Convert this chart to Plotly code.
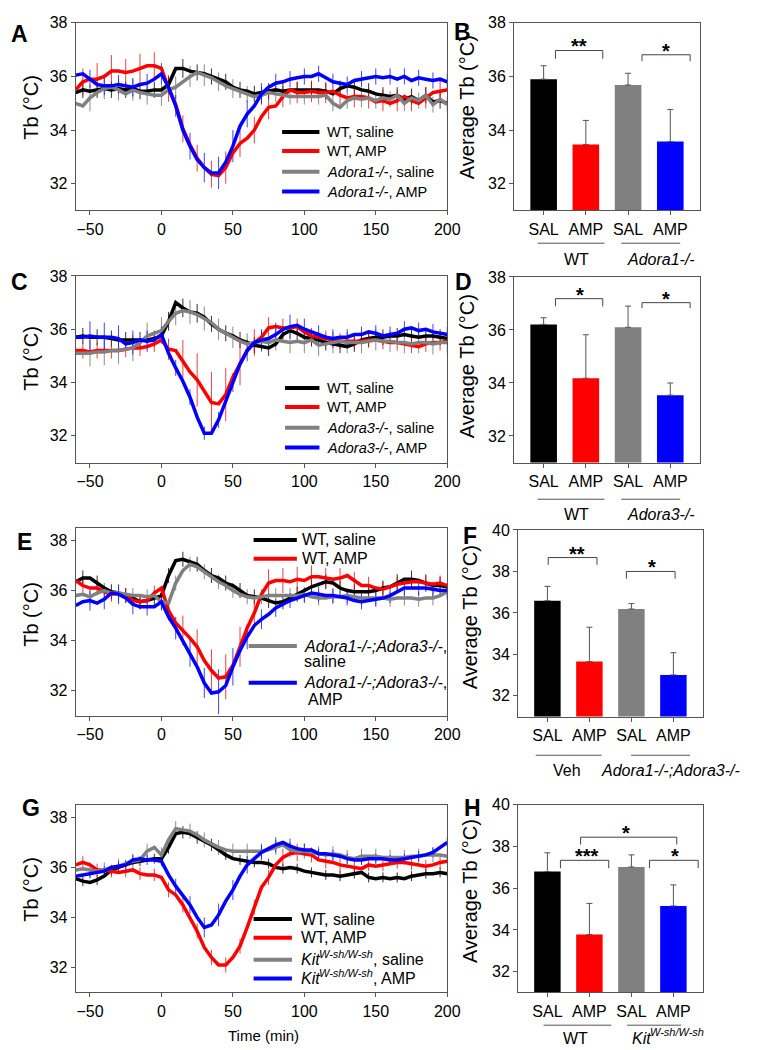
import plotly.graph_objects as go

FONT = "Arial, 'Liberation Sans', Helvetica, sans-serif"
W, H = 762, 1050

# ---------------- time-course data (5-min grid) ----------------
T = list(range(-60, 205, 5))
ERR_T1 = list(range(-55, 200, 10))   # error-bar times for WT series
ERR_T2 = list(range(-50, 205, 10))   # error-bar times for KO series

LINE_COLORS = ["#000000", "#ff0000", "#808080", "#0000ff"]
ERR_COLORS = ["#333333", "rgba(225,0,0,0.75)", "#8c8c8c", "rgba(0,0,255,0.75)"]

# Panel A
A_WT_SAL = [35.4, 35.5, 35.45, 35.5, 35.55, 35.5, 35.55, 35.5, 35.55, 35.45,
            35.45, 35.5, 35.5, 35.7, 36.3, 36.3, 36.2, 36.15, 36.1, 36.0,
            35.9, 35.8, 35.6, 35.5, 35.45, 35.35, 35.4, 35.45, 35.5, 35.45,
            35.5, 35.5, 35.5, 35.5, 35.5, 35.45, 35.35, 35.55, 35.65, 35.6,
            35.5, 35.45, 35.35, 35.3, 35.25, 35.3, 35.15, 35.25, 35.1, 35.3,
            35.05, 35.1, 35.0]
A_WT_AMP = [35.5, 35.8, 35.9, 35.9, 36.0, 36.2, 36.2, 36.15, 36.2, 36.3,
            36.4, 36.4, 36.3, 35.55, 34.95, 34.05, 33.45, 32.95, 32.6, 32.35,
            32.3, 32.6, 33.15, 33.5, 33.7, 34.0, 34.5, 34.85, 34.9, 35.25,
            35.5, 35.4, 35.4, 35.45, 35.4, 35.4, 35.45, 35.3, 35.2, 35.25,
            35.25, 35.2, 35.05, 35.1, 35.0, 35.1, 35.25, 35.1, 35.0, 35.2,
            35.4, 35.45, 35.5]
A_KO_SAL = [35.0, 34.9, 35.2, 35.4, 35.55, 35.6, 35.5, 35.35, 35.5, 35.4,
            35.35, 35.3, 35.3, 35.5, 35.6, 35.8, 36.0, 36.15, 36.05, 35.95,
            35.8, 35.65, 35.55, 35.45, 35.35, 35.25, 35.3, 35.4, 35.35, 35.3,
            35.25, 35.25, 35.25, 35.25, 35.25, 35.3, 35.0, 34.85, 35.1, 35.2,
            35.15, 35.2, 35.1, 35.2, 35.15, 35.3, 35.0, 35.2, 35.1, 35.3,
            34.95, 35.15, 34.95]
A_KO_AMP = [36.05, 36.1, 35.9, 35.7, 35.65, 35.65, 35.7, 35.65, 35.6, 35.7,
            35.75, 35.9, 36.1, 35.6, 34.9, 34.0, 33.4, 32.9, 32.6, 32.4,
            32.4, 32.8, 33.4, 34.15, 34.6, 34.9, 35.35, 35.6, 35.75, 35.8,
            35.9, 35.95, 36.0, 36.0, 36.1, 35.95, 35.8, 35.75, 35.7, 35.85,
            35.9, 35.95, 36.0, 35.95, 36.0, 35.9, 36.0, 35.85, 35.95, 35.9,
            35.85, 35.9, 35.8]
A_ERR = [
    [0.3, 0.3, 0.3, 0.3, 0.3, 0.3, 0.3, 0.35, 0.3, 0.3, 0.3, 0.3, 0.3, 0.3, 0.3, 0.3, 0.3, 0.3, 0.3, 0.3, 0.3, 0.3, 0.3, 0.3, 0.3, 0.3],
    [0.5, 0.6, 0.6, 0.5, 0.55, 0.5, 0.5, 0.5, 0.5, 0.5, 0.6, 0.5, 0.5, 0.45, 0.4, 0.4, 0.4, 0.4, 0.4, 0.4, 0.4, 0.4, 0.4, 0.4, 0.4, 0.4],
    [0.5, 0.4, 0.4, 0.4, 0.4, 0.4, 0.4, 0.4, 0.4, 0.35, 0.35, 0.3, 0.3, 0.3, 0.3, 0.3, 0.3, 0.3, 0.3, 0.3, 0.3, 0.3, 0.3, 0.3, 0.3, 0.3],
    [0.35, 0.35, 0.35, 0.35, 0.35, 0.4, 0.4, 0.5, 0.55, 0.6, 0.6, 0.5, 0.4, 0.35, 0.3, 0.3, 0.3, 0.3, 0.3, 0.3, 0.3, 0.3, 0.3, 0.3, 0.3, 0.3],
]

# Panel C
C_WT_SAL = [35.7, 35.75, 35.7, 35.7, 35.7, 35.65, 35.6, 35.6, 35.6, 35.6,
            35.6, 35.65, 35.75, 36.3, 37.0, 36.8, 36.65, 36.6, 36.45, 36.2,
            36.0, 35.85, 35.75, 35.6, 35.5, 35.4, 35.35, 35.3, 35.45, 35.8,
            35.95, 35.85, 35.7, 35.65, 35.6, 35.5, 35.45, 35.4, 35.35, 35.45,
            35.6, 35.65, 35.7, 35.7, 35.75, 35.75, 35.8, 35.75, 35.7, 35.75,
            35.75, 35.7, 35.65]
C_WT_AMP = [35.2, 35.2, 35.15, 35.2, 35.2, 35.2, 35.2, 35.25, 35.3, 35.3,
            35.35, 35.45, 35.6, 35.25, 35.2, 34.8, 34.4, 34.1, 33.7, 33.25,
            33.2, 33.55, 34.2, 34.7, 35.2, 35.5, 35.7, 36.05, 36.1, 36.05,
            36.05, 36.1, 35.9, 35.75, 35.7, 35.65, 35.6, 35.55, 35.55, 35.55,
            35.55, 35.6, 35.6, 35.55, 35.5, 35.5, 35.45, 35.4, 35.35, 35.45,
            35.5, 35.5, 35.55]
C_KO_SAL = [35.1, 35.1, 35.1, 35.15, 35.15, 35.2, 35.2, 35.25, 35.3, 35.5,
            35.75, 35.85, 35.95, 36.3, 36.6, 36.7, 36.65, 36.55, 36.4, 36.25,
            36.0, 35.85, 35.7, 35.55, 35.45, 35.5, 35.55, 35.5, 35.6, 35.55,
            35.5, 35.55, 35.5, 35.6, 35.4, 35.45, 35.5, 35.55, 35.5, 35.5,
            35.5, 35.55, 35.6, 35.55, 35.55, 35.5, 35.5, 35.45, 35.5, 35.5,
            35.45, 35.5, 35.5]
C_KO_AMP = [35.7, 35.7, 35.75, 35.7, 35.7, 35.7, 35.65, 35.45, 35.5, 35.6,
            35.55, 35.6, 35.8, 35.1, 34.55, 34.05, 33.45, 32.7, 32.1, 32.1,
            32.6, 33.3, 34.0, 34.7, 35.2, 35.5, 35.6, 35.65, 35.8, 36.0,
            36.1, 36.15, 36.0, 35.9, 35.8, 35.7, 35.65, 35.7, 35.7, 35.8,
            35.8, 35.9, 35.85, 35.75, 35.8, 35.85, 36.0, 36.05, 35.95, 36.0,
            35.9, 35.85, 35.8]
C_ERR = [
    [0.3, 0.3, 0.3, 0.3, 0.3, 0.3, 0.35, 0.35, 0.35, 0.3, 0.3, 0.3, 0.3, 0.3, 0.3, 0.3, 0.3, 0.3, 0.3, 0.3, 0.3, 0.3, 0.3, 0.3, 0.3, 0.3],
    [0.3, 0.3, 0.3, 0.3, 0.3, 0.3, 0.4, 0.8, 1.0, 1.15, 1.0, 0.8, 0.5, 0.4, 0.35, 0.3, 0.3, 0.3, 0.3, 0.3, 0.3, 0.3, 0.3, 0.3, 0.3, 0.3],
    [0.5, 0.5, 0.5, 0.5, 0.5, 0.5, 0.45, 0.45, 0.45, 0.4, 0.4, 0.4, 0.4, 0.4, 0.4, 0.4, 0.4, 0.4, 0.4, 0.4, 0.4, 0.4, 0.4, 0.4, 0.4, 0.4],
    [0.55, 0.55, 0.5, 0.45, 0.4, 0.3, 0.3, 0.3, 0.25, 0.3, 0.35, 0.4, 0.4, 0.45, 0.45, 0.4, 0.35, 0.35, 0.3, 0.3, 0.3, 0.3, 0.3, 0.3, 0.3, 0.3],
]

# Panel E
E_WT_SAL = [36.35, 36.5, 36.5, 36.3, 36.1, 35.95, 35.9, 35.8, 35.7, 35.55,
            35.6, 35.7, 35.8, 36.6, 37.2, 37.25, 37.15, 37.05, 36.8, 36.6,
            36.5, 36.3, 36.2, 36.0, 35.8, 35.75, 35.7, 35.6, 35.5, 35.55,
            35.7, 35.85, 36.0, 36.15, 36.25, 36.35, 36.3, 36.1, 36.0, 35.95,
            35.95, 35.95, 36.0, 36.1, 36.15, 36.3, 36.45, 36.45, 36.4, 36.3,
            36.2, 36.2, 36.15]
E_WT_AMP = [36.4, 36.2, 36.1, 36.1, 35.95, 35.85, 35.9, 35.8, 35.6, 35.55,
            35.6, 35.9, 36.1, 35.2, 34.7, 34.4, 34.1, 33.75, 33.2, 32.8,
            32.5, 32.55, 33.0, 33.75, 34.5, 35.1, 35.85, 36.3, 36.4, 36.4,
            36.35, 36.45, 36.4, 36.55, 36.55, 36.5, 36.45, 36.5, 36.6, 36.4,
            36.2, 36.2, 36.1, 36.05, 36.15, 36.25, 36.3, 36.35, 36.35, 36.3,
            36.25, 36.3, 36.2]
E_KO_SAL = [35.8, 35.85, 35.75, 35.9, 36.0, 35.9, 35.9, 35.85, 35.8, 35.8,
            35.75, 35.8, 35.55, 35.5, 36.3, 36.8, 37.05, 36.95, 36.75, 36.55,
            36.35, 36.2, 36.0, 35.85, 35.75, 35.7, 35.75, 35.8, 35.8, 35.8,
            35.8, 35.8, 35.85, 35.75, 35.7, 35.7, 35.75, 35.75, 35.8, 35.75,
            35.7, 35.7, 35.7, 35.7, 35.65, 35.7, 35.7, 35.7, 35.65, 35.7,
            35.7, 35.8, 35.95]
E_KO_AMP = [35.4, 35.55, 35.6, 35.5, 35.65, 35.9, 35.85, 35.7, 35.45, 35.35,
            35.35, 35.35, 35.55, 34.95, 34.5, 34.0, 33.5, 32.95, 32.3, 31.9,
            31.95, 32.2, 32.95, 33.6, 34.15, 34.6, 34.85, 35.05, 35.3, 35.45,
            35.6, 35.7, 35.8, 35.9, 35.85, 35.8, 35.8, 35.75, 35.7, 35.6,
            35.55, 35.6, 35.65, 35.7, 35.8, 35.95, 36.1, 36.1, 36.1, 36.1,
            36.05, 36.0, 36.0]
E_ERR = [
    [0.3, 0.3, 0.3, 0.3, 0.3, 0.3, 0.3, 0.3, 0.3, 0.3, 0.3, 0.3, 0.3, 0.3, 0.3, 0.3, 0.3, 0.3, 0.3, 0.3, 0.3, 0.3, 0.35, 0.35, 0.35, 0.35],
    [0.3, 0.3, 0.3, 0.3, 0.3, 0.3, 0.4, 0.6, 0.7, 0.85, 0.9, 0.8, 0.6, 0.55, 0.5, 0.5, 0.45, 0.4, 0.4, 0.35, 0.35, 0.3, 0.3, 0.3, 0.3, 0.3],
    [0.3, 0.3, 0.3, 0.3, 0.3, 0.3, 0.3, 0.3, 0.3, 0.3, 0.3, 0.3, 0.3, 0.3, 0.3, 0.3, 0.3, 0.3, 0.3, 0.3, 0.3, 0.3, 0.3, 0.3, 0.3, 0.3],
    [0.4, 0.4, 0.4, 0.4, 0.35, 0.35, 0.45, 0.55, 0.6, 0.9, 0.75, 0.5, 0.4, 0.35, 0.3, 0.3, 0.3, 0.3, 0.3, 0.3, 0.3, 0.3, 0.3, 0.3, 0.3, 0.3],
]

# Panel G
G_WT_SAL = [35.55, 35.45, 35.4, 35.5, 35.65, 35.9, 36.0, 36.1, 36.2, 36.25,
            36.3, 36.35, 36.35, 36.8, 37.35, 37.4, 37.35, 37.2, 37.05, 36.9,
            36.7, 36.5, 36.35, 36.3, 36.25, 36.2, 36.2, 36.15, 36.0, 35.95,
            36.0, 35.95, 35.85, 35.8, 35.75, 35.7, 35.7, 35.65, 35.7, 35.75,
            35.8, 35.6, 35.55, 35.6, 35.55, 35.6, 35.55, 35.65, 35.7, 35.75,
            35.75, 35.8, 35.75]
G_WT_AMP = [36.1, 36.2, 36.1, 35.9, 35.9, 35.85, 35.8, 35.85, 35.9, 35.75,
            35.7, 35.7, 35.6, 35.1, 34.9, 34.5, 34.0, 33.45, 32.8, 32.4,
            32.1, 32.1, 32.4, 32.85, 33.6, 34.4, 35.2, 35.6, 36.1, 36.4,
            36.55, 36.6, 36.55, 36.5, 36.3, 36.25, 36.2, 36.1, 36.05, 36.0,
            35.95, 36.1, 36.05, 36.1, 36.15, 36.2, 36.2, 36.15, 36.1, 36.05,
            36.1, 36.2, 36.25]
G_KO_SAL = [35.9, 35.95, 35.9, 35.85, 35.9, 36.0, 36.05, 36.15, 36.25, 36.3,
            36.65, 36.8, 36.5, 37.1, 37.55, 37.5, 37.45, 37.3, 37.1, 36.95,
            36.8, 36.7, 36.65, 36.65, 36.65, 36.65, 36.65, 36.7, 36.8, 36.9,
            36.7, 36.65, 36.65, 36.6, 36.55, 36.5, 36.55, 36.5, 36.4, 36.35,
            36.45, 36.45, 36.45, 36.4, 36.4, 36.4, 36.4, 36.45, 36.45, 36.5,
            36.5, 36.5, 36.45]
G_KO_AMP = [35.65, 35.7, 35.75, 35.8, 35.85, 36.0, 36.05, 36.1, 36.3, 36.35,
            36.3, 36.3, 36.25, 35.7, 35.25, 34.9, 34.5, 34.0, 33.6, 33.7,
            34.1, 34.65, 35.1, 35.65, 36.1, 36.35, 36.6, 36.75, 36.9, 37.0,
            36.85, 36.75, 36.7, 36.7, 36.55, 36.55, 36.5, 36.45, 36.35, 36.3,
            36.3, 36.35, 36.35, 36.35, 36.3, 36.3, 36.35, 36.4, 36.45, 36.5,
            36.6, 36.8, 37.0]
G_ERR = [
    [0.2, 0.2, 0.2, 0.2, 0.2, 0.2, 0.25, 0.25, 0.25, 0.25, 0.2, 0.2, 0.2, 0.2, 0.2, 0.2, 0.2, 0.2, 0.2, 0.2, 0.2, 0.2, 0.2, 0.2, 0.2, 0.2],
    [0.25, 0.25, 0.25, 0.25, 0.25, 0.25, 0.3, 0.3, 0.3, 0.3, 0.3, 0.3, 0.3, 0.3, 0.35, 0.35, 0.3, 0.3, 0.3, 0.3, 0.25, 0.25, 0.25, 0.25, 0.25, 0.25],
    [0.3, 0.3, 0.3, 0.3, 0.3, 0.3, 0.3, 0.3, 0.3, 0.3, 0.3, 0.3, 0.3, 0.3, 0.3, 0.3, 0.3, 0.3, 0.3, 0.3, 0.3, 0.3, 0.3, 0.3, 0.3, 0.3],
    [0.2, 0.2, 0.2, 0.2, 0.2, 0.2, 0.3, 0.35, 0.4, 0.45, 0.4, 0.35, 0.3, 0.3, 0.3, 0.25, 0.2, 0.2, 0.2, 0.2, 0.2, 0.2, 0.2, 0.2, 0.2, 0.2],
]

# ---------------- bar data ----------------
BAR_X = [0, 1, 2, 3]
BAR_TICKS = ["SAL", "AMP", "SAL", "AMP"]
BAR_COLORS = ["#000000", "#ff0000", "#808080", "#0000ff"]
B_MEAN = [35.9, 33.46, 35.68, 33.57]
B_ERR = [0.5, 0.9, 0.44, 1.2]
D_MEAN = [36.21, 34.18, 36.1, 33.54]
D_ERR = [0.25, 1.64, 0.8, 0.46]
F_MEAN = [36.59, 33.65, 36.19, 33.01]
F_ERR = [0.69, 1.66, 0.26, 1.07]
H_MEAN = [36.8, 33.78, 37.02, 35.15]
H_ERR = [0.9, 1.49, 0.58, 1.01]


def px(x):
    return x / W


def py(y):
    return 1 - y / H


fig = go.Figure()
annotations = []
shapes = []

AXIS_COMMON = dict(showline=True, mirror=True, linecolor="#555555", linewidth=1,
                   ticks="outside", ticklen=4, tickcolor="#555555", showgrid=False,
                   zeroline=False, tickfont=dict(family=FONT, size=16, color="#000000"))


def ax_names(i):
    return ("x" if i == 1 else f"x{i}", "y" if i == 1 else f"y{i}",
            "xaxis" if i == 1 else f"xaxis{i}", "yaxis" if i == 1 else f"yaxis{i}")


def text(x, y, s, size=16, angle=0, anchor="center", bold=False):
    annotations.append(dict(x=px(x), y=py(y), xref="paper", yref="paper",
                            text=f"<b>{s}</b>" if bold else s, showarrow=False,
                            textangle=angle, xanchor=anchor, yanchor="middle",
                            font=dict(family=FONT, size=size, color="#000000")))


def kit_text(x_left, y, suffix="", size=16):
    # "Kit" with an italic superscript, laid out piece by piece (Arial metrics)
    sup = round(size * 0.7)
    text(x_left, y, "<i>Kit</i>", size=size, anchor="left")
    xs = x_left + 1.167 * size
    text(xs, y - 0.38 * size, "<i>W-sh/W-sh</i>", size=sup, anchor="left")
    if suffix:
        text(xs + 4.944 * sup, y, suffix, size=size, anchor="left")


def hline(x0, x1, y, color="#555555", width=1):
    shapes.append(dict(type="line", xref="paper", yref="paper", x0=px(x0), x1=px(x1),
                       y0=py(y), y1=py(y), line=dict(color=color, width=width)))


def line_panel(i, series, errs, dom_x, dom_y, yrange):
    xa, ya, xk, yk = ax_names(i)
    for k in range(4):
        et = ERR_T1 if k < 2 else ERR_T2
        ev = [series[k][T.index(t)] for t in et]
        fig.add_trace(go.Scatter(
            x=et, y=ev, mode="markers", xaxis=xa, yaxis=ya, showlegend=False, hoverinfo="skip",
            marker=dict(size=1, color="rgba(0,0,0,0)"),
            error_y=dict(type="data", array=errs[k], color=ERR_COLORS[k], thickness=1, width=0)))
    for k in range(4):
        fig.add_trace(go.Scatter(
            x=T, y=series[k], mode="lines", xaxis=xa, yaxis=ya, showlegend=False,
            line=dict(color=LINE_COLORS[k], width=3.5)))
    fig.layout[xk] = dict(AXIS_COMMON, domain=[px(dom_x[0]), px(dom_x[1])], range=[-60, 200],
                          tickvals=[-50, 0, 50, 100, 150, 200], anchor=ya)
    fig.layout[yk] = dict(AXIS_COMMON, domain=[py(dom_y[1]), py(dom_y[0])], range=yrange,
                          tickvals=[32, 34, 36, 38], anchor=xa)


def bar_panel(i, mean, err, dom_x, dom_y, yrange, yticks, brackets):
    xa, ya, xk, yk = ax_names(i)
    fig.add_trace(go.Bar(
        x=BAR_X, y=mean, width=0.63, xaxis=xa, yaxis=ya, showlegend=False,
        marker=dict(color=BAR_COLORS, line=dict(width=0)),
        error_y=dict(type="data", array=err, arrayminus=[0, 0, 0, 0], symmetric=False,
                     color="#555555", thickness=1, width=3)))
    fig.layout[xk] = dict(AXIS_COMMON, domain=[px(dom_x[0]), px(dom_x[1])], range=[-0.7, 3.7],
                          tickvals=BAR_X, ticktext=BAR_TICKS, anchor=ya)
    fig.layout[yk] = dict(AXIS_COMMON, domain=[py(dom_y[1]), py(dom_y[0])], range=yrange,
                          tickvals=yticks, anchor=xa)
    for (x0, x1, ytop, ybot, stars, sx) in brackets:
        shapes.append(dict(type="path", xref=xa, yref=ya,
                           path=f"M {x0},{ybot} L {x0},{ytop} L {x1},{ytop} L {x1},{ybot}",
                           line=dict(color="#444444", width=1)))
        annotations.append(dict(x=sx, y=ytop, xref=xa, yref=ya, text=f"<b>{stars}</b>",
                                showarrow=False, xanchor="center", yanchor="bottom", yshift=-9,
                                font=dict(family=FONT, size=20, color="#000000")))


# ---------------- panels ----------------
line_panel(1, [A_WT_SAL, A_WT_AMP, A_KO_SAL, A_KO_AMP], A_ERR, (77, 455), (15, 204), [31, 38])
bar_panel(2, B_MEAN, B_ERR, (523, 712), (15, 204), [31, 38], [32, 34, 36, 38],
          [(0.28, 1.40, 36.97, 36.66, "**", 0.84), (2.33, 3.47, 36.81, 36.57, "*", 2.91)])
line_panel(3, [C_WT_SAL, C_WT_AMP, C_KO_SAL, C_KO_AMP], C_ERR, (77, 455), (270, 458), [31, 38])
bar_panel(4, D_MEAN, D_ERR, (523, 712), (271, 458), [31, 38], [32, 34, 36, 38],
          [(0.28, 1.40, 37.18, 36.89, "*", 0.86), (2.33, 3.47, 37.03, 36.82, "*", 2.91)])
line_panel(5, [E_WT_SAL, E_WT_AMP, E_KO_SAL, E_KO_AMP], E_ERR, (77, 455), (524, 713), [31, 38.5])
bar_panel(6, F_MEAN, F_ERR, (527, 715), (526, 714), [31, 40], [32, 34, 36, 38, 40],
          [(0.02, 1.18, 38.67, 38.32, "**", 0.70), (1.88, 3.04, 38.0, 37.65, "*", 2.49)])
line_panel(7, [G_WT_SAL, G_WT_AMP, G_KO_SAL, G_KO_AMP], G_ERR, (77, 455), (803, 992), [31, 38.5])
bar_panel(8, H_MEAN, H_ERR, (527, 715), (803, 992), [31, 40], [32, 34, 36, 38, 40],
          [(0.31, 1.46, 37.34, 36.96, "***", 0.94), (2.43, 3.59, 37.34, 36.96, "*", 3.05),
           (0.79, 3.08, 38.45, 38.10, "*", 1.88)])

# panel letters
for lab, (x, y) in {"A": (20, 26), "B": (471, 24), "C": (20, 276), "D": (472, 276),
                    "E": (25, 538), "F": (478, 532), "G": (32, 806), "H": (481, 806)}.items():
    text(x, y, lab, size=23, bold=True)

# axis titles
for y in (100, 353, 611, 888):
    text(32, y, "Tb (°C)", size=20, angle=-90)
for x, y in ((475, 100), (475, 361), (478, 614), (478, 890)):
    text(x, y, "Average Tb (°C)", size=20, angle=-90)
text(268, 1035, "Time (min)", size=15)

# group labels under bar charts
for (u1, u2, uy, l1, l2, ly, g1, g2) in [
        ((547, 615), (632, 692), 237, 587, 672, 253, "WT", "<i>Adora1-/-</i>"),
        ((547, 615), (632, 692), 495, 587, 672, 510, "WT", "<i>Adora3-/-</i>"),
        ((545, 612), (642, 702), 753, 577, 682, 768, "Veh", "<i>Adora1-/-;Adora3-/-</i>"),
        ((553, 622), (638, 693), 1025, 585, None, 1038, "WT", None)]:
    hline(u1[0], u1[1], uy)
    hline(u2[0], u2[1], uy)
    text(l1, ly, g1, size=16)
    if g2 is not None:
        text(l2, ly, g2, size=16)
kit_text(641, 1038)

# legends
def legend_rows(rows, lx0, lx1, tx, size):
    for (y, color, label) in rows:
        hline(lx0, lx1, y, color=color, width=4)
        if label.startswith("KIT"):
            kit_text(tx, y, suffix=label[3:], size=size)
        else:
            text(tx, y, label, size=size, anchor="left")

legend_rows([(125, LINE_COLORS[0], "WT, saline"), (144, LINE_COLORS[1], "WT, AMP"),
             (165, LINE_COLORS[2], "<i>Adora1-/-</i>, saline"), (185, LINE_COLORS[3], "<i>Adora1-/-</i>, AMP")],
            287, 325, 331, 14.5)
legend_rows([(383, LINE_COLORS[0], "WT, saline"), (402, LINE_COLORS[1], "WT, AMP"),
             (423, LINE_COLORS[2], "<i>Adora3-/-</i>, saline"), (443, LINE_COLORS[3], "<i>Adora3-/-</i>, AMP")],
            290, 325, 331, 14.5)
legend_rows([(536, LINE_COLORS[0], "WT, saline"), (555, LINE_COLORS[1], "WT, AMP")], 258, 302, 305, 16)
legend_rows([(643, LINE_COLORS[2], "<i>Adora1-/-;Adora3-/-</i>,"),
             (680, LINE_COLORS[3], "<i>Adora1-/-;Adora3-/-</i>,")], 253, 302, 307, 16)
text(307, 659, "saline", size=16, anchor="left")
text(311, 697, "AMP", size=16, anchor="left")
legend_rows([(918, LINE_COLORS[0], "WT, saline"), (937, LINE_COLORS[1], "WT, AMP"),
             (959, LINE_COLORS[2], "KIT, saline"), (978, LINE_COLORS[3], "KIT, AMP")],
            258, 297, 304, 16)

fig.update_layout(width=W, height=H, margin=dict(l=0, r=0, t=0, b=0),
                  paper_bgcolor="white", plot_bgcolor="white", showlegend=False,
                  bargap=0.3, font=dict(family=FONT, size=16, color="#000000"),
                  annotations=annotations, shapes=shapes)

fig.write_html("out.html", config={"displayModeBar": False},
               post_script="document.body.style.margin='0';")
